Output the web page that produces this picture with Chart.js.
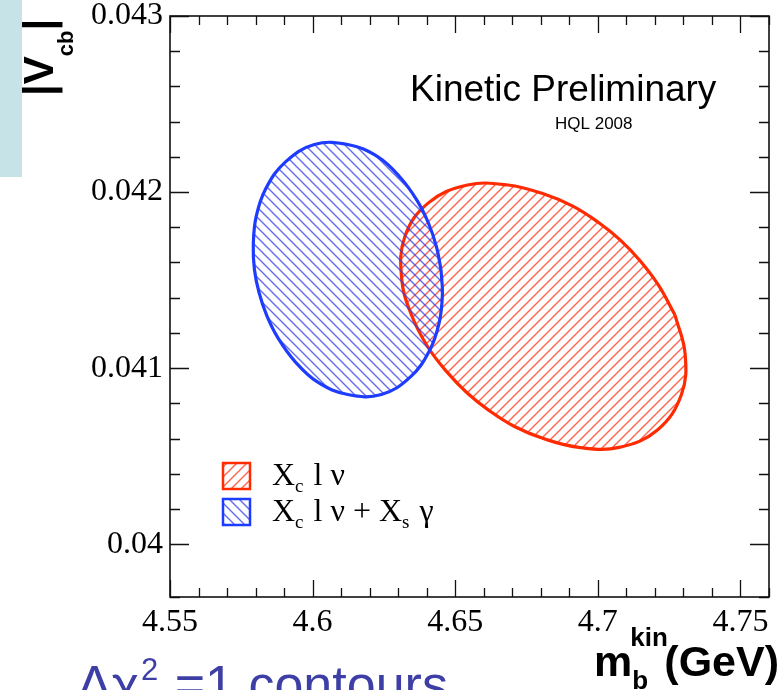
<!DOCTYPE html>
<html>
<head>
<meta charset="utf-8">
<script src="https://cdn.jsdelivr.net/npm/chart.js@4.4.1/dist/chart.umd.min.js"></script>
<style>
  html, body { margin: 0; padding: 0; background: #fff; }
  #wrap { width: 783px; height: 690px; position: relative; }
</style>
</head>
<body>
<div id="wrap"><canvas id="contourChart"></canvas></div>
<script>
// Delta chi2 = 1 contour outlines (m_b kin in GeV, |Vcb|)
const redMass = [4.7271, 4.7306, 4.7293, 4.7210, 4.7075, 4.6933, 4.6809, 4.6706, 4.6618, 4.6541, 4.6470, 4.6404,
                 4.6347, 4.6312, 4.6324, 4.6407, 4.6543, 4.6685, 4.6809, 4.6912, 4.7000, 4.7077, 4.7148, 4.7213];
const redVcb  = [0.04130, 0.04108, 0.04085, 0.04065, 0.04055, 0.04055, 0.04060, 0.04067, 0.04076, 0.04086, 0.04098, 0.04112,
                 0.04130, 0.04151, 0.04175, 0.04194, 0.04204, 0.04204, 0.04199, 0.04192, 0.04183, 0.04173, 0.04161, 0.04147];
const blueMass = [4.6450, 4.6455, 4.6444, 4.6410, 4.6343, 4.6241, 4.6123, 4.6018, 4.5937, 4.5879, 4.5839, 4.5812,
                  4.5796, 4.5792, 4.5802, 4.5836, 4.5904, 4.6006, 4.6123, 4.6229, 4.6309, 4.6367, 4.6407, 4.6434];
const blueVcb  = [0.04156, 0.04142, 0.04126, 0.04110, 0.04095, 0.04085, 0.04085, 0.04092, 0.04104, 0.04117, 0.04130, 0.04143,
                  0.04156, 0.04170, 0.04186, 0.04202, 0.04217, 0.04227, 0.04227, 0.04220, 0.04208, 0.04195, 0.04182, 0.04169];

const xMajorTicks = [4.55, 4.6, 4.65, 4.7, 4.75];
const xTickLabels = ['4.55', '4.6', '4.65', '4.7', '4.75'];
const yMajorTicks = [0.04, 0.041, 0.042, 0.043];
const yTickLabels = ['0.04', '0.041', '0.042', '0.043'];

const RED = '#ff2a00';
const BLUE = '#1e3cff';

function hatch(color, dir) {
    const c = document.createElement('canvas');
    c.width = 10; c.height = 10;
    const g = c.getContext('2d');
    g.strokeStyle = color;
    g.lineWidth = 1.4;
    g.beginPath();
    if (dir > 0) {
        g.moveTo(-2, 12); g.lineTo(12, -2);
        g.moveTo(-2, 2); g.lineTo(2, -2);
        g.moveTo(8, 12); g.lineTo(12, 8);
    } else {
        g.moveTo(-2, -2); g.lineTo(12, 12);
        g.moveTo(8, -2); g.lineTo(12, 2);
        g.moveTo(-2, 8); g.lineTo(2, 12);
    }
    g.stroke();
    return g.createPattern(c, 'repeat');
}

function closed(xs, ys) {
    const pts = xs.map((x, i) => ({ x: x, y: ys[i] }));
    pts.push({ x: xs[0], y: ys[0] });
    return pts;
}

function findLabel(v, majors, labels) {
    const i = majors.findIndex(m => Math.abs(m - v) < 1e-9);
    return i >= 0 ? labels[i] : '';
}

const canvas = document.getElementById('contourChart');
const redHatch = hatch('rgba(255,60,30,0.8)', 1);
const blueHatch = hatch('rgba(50,60,230,0.75)', -1);

// ROOT style frame, inward ticks, titles and legend
const decor = {
    id: 'decor',
    beforeDraw(chart) {
        const c = chart.ctx;
        c.save();
        c.fillStyle = '#fff';
        c.fillRect(0, 0, chart.width, chart.height);
        c.fillStyle = '#c6e4e8';
        c.fillRect(0, 0, 22, 177);
        c.restore();
    },
    afterDraw(chart) {
        const c = chart.ctx;
        const a = chart.chartArea;
        const { x, y } = chart.scales;
        c.save();
        c.strokeStyle = '#111';
        c.lineWidth = 1.3;
        c.beginPath();
        x.ticks.forEach(t => {
            const px = Math.round(x.getPixelForValue(t.value)) + 0.5;
            const len = findLabel(t.value, xMajorTicks, xTickLabels) ? 17 : 9;
            c.moveTo(px, a.bottom); c.lineTo(px, a.bottom - len);
            c.moveTo(px, a.top); c.lineTo(px, a.top + len);
        });
        y.ticks.forEach(t => {
            const py = Math.round(y.getPixelForValue(t.value)) + 0.5;
            const len = findLabel(t.value, yMajorTicks, yTickLabels) ? 19 : 10;
            c.moveTo(a.left, py); c.lineTo(a.left + len, py);
            c.moveTo(a.right, py); c.lineTo(a.right - len, py);
        });
        c.stroke();
        c.lineWidth = 1.6;
        c.strokeRect(a.left, a.top, a.right - a.left, a.bottom - a.top);

        // plot labels
        c.fillStyle = '#000';
        c.textBaseline = 'alphabetic';
        c.font = '37px "Liberation Sans", Arial, sans-serif';
        c.fillText('Kinetic Preliminary', 410, 101);
        c.font = '17px "Liberation Sans", Arial, sans-serif';
        c.fillText('HQL 2008', 555, 129);

        // legend
        const rows = [
            { pat: redHatch, col: RED, y: 463, parts: [['X', 0], ['c', 1], [' l \u03bd', 0]] },
            { pat: blueHatch, col: BLUE, y: 499, parts: [['X', 0], ['c', 1], [' l \u03bd + X', 0], ['s', 1], [' \u03b3', 0]] }
        ];
        rows.forEach(r => {
            c.fillStyle = r.pat;
            c.fillRect(223, r.y, 27, 26);
            c.strokeStyle = r.col;
            c.lineWidth = 2.5;
            c.strokeRect(223, r.y, 27, 26);
            let tx = 272;
            r.parts.forEach(p => {
                c.fillStyle = '#000';
                c.font = p[1] ? '19px "Liberation Serif", serif' : '32px "Liberation Serif", serif';
                c.fillText(p[0], tx, r.y + 22 + (p[1] ? 7 : 0));
                tx += c.measureText(p[0]).width + (p[1] ? 2 : 0);
            });
        });

        // y title |V_cb|
        c.save();
        c.translate(53, 96);
        c.rotate(-Math.PI / 2);
        c.fillStyle = '#000';
        c.font = 'bold 42px "Liberation Sans", Arial, sans-serif';
        c.fillText('|V', 0, 0);
        let w = c.measureText('|V').width;
        c.font = 'bold 22px "Liberation Sans", Arial, sans-serif';
        c.fillText('cb', w, 20);
        w += c.measureText('cb').width;
        c.font = 'bold 42px "Liberation Sans", Arial, sans-serif';
        c.fillText('|', w, 0);
        c.restore();

        // x title m_b^kin (GeV)
        c.fillStyle = '#000';
        c.font = 'bold 43px "Liberation Sans", Arial, sans-serif';
        c.fillText('m', 594, 676);
        const mw = c.measureText('m').width;
        c.font = 'bold 26px "Liberation Sans", Arial, sans-serif';
        c.fillText('kin', 594 + mw - 2, 646);
        c.fillText('b', 594 + mw, 689);
        c.font = 'bold 43px "Liberation Sans", Arial, sans-serif';
        c.textAlign = 'right';
        c.fillText('(GeV)', 779, 676);
        c.textAlign = 'left';

        // slide caption
        c.fillStyle = '#3d3fa6';
        c.font = '52px "Liberation Sans", Arial, sans-serif';
        c.fillText('\u0394\u03c7', 77, 702);
        let cw = 77 + c.measureText('\u0394\u03c7').width;
        c.font = '31px "Liberation Sans", Arial, sans-serif';
        c.fillText('2', cw + 2, 680);
        cw += c.measureText('2').width + 4;
        c.font = '52px "Liberation Sans", Arial, sans-serif';
        c.fillText(' =1 contours', cw, 702);
        c.restore();
    }
};

new Chart(canvas, {
    type: 'scatter',
    data: {
        datasets: [{
            label: 'Xc l nu + Xs gamma',
            data: closed(blueMass, blueVcb),
            showLine: true,
            borderColor: BLUE,
            borderWidth: 3.2,
            backgroundColor: blueHatch,
            fill: 'shape',
            tension: 0.4,
            pointRadius: 0,
            order: 0
        }, {
            label: 'Xc l nu',
            data: closed(redMass, redVcb),
            showLine: true,
            borderColor: RED,
            borderWidth: 3.2,
            backgroundColor: redHatch,
            fill: 'shape',
            tension: 0.4,
            pointRadius: 0,
            order: 1
        }]
    },
    options: {
        responsive: true,
        maintainAspectRatio: false,
        animation: false,
        layout: { padding: { left: 0, top: 16, right: 14, bottom: 0 } },
        plugins: {
            legend: { display: false },
            tooltip: { enabled: false }
        },
        scales: {
            x: {
                type: 'linear',
                min: 4.55,
                max: 4.76,
                grid: { display: false, drawTicks: false },
                border: { display: false },
                afterFit: s => { s.height = 93; s.paddingLeft = 0; s.paddingRight = 0; },
                ticks: {
                    stepSize: 0.01,
                    autoSkip: false,
                    maxRotation: 0,
                    padding: 6,
                    color: '#000',
                    font: { family: '"Liberation Serif", serif', size: 32 },
                    callback: v => findLabel(v, xMajorTicks, xTickLabels)
                }
            },
            y: {
                type: 'linear',
                min: 0.0397,
                max: 0.043,
                grid: { display: false, drawTicks: false },
                border: { display: false },
                afterFit: s => { s.width = 170; s.paddingTop = 0; s.paddingBottom = 0; },
                ticks: {
                    stepSize: 0.0002,
                    autoSkip: false,
                    padding: 7,
                    color: '#000',
                    font: { family: '"Liberation Serif", serif', size: 32 },
                    callback: v => findLabel(v, yMajorTicks, yTickLabels)
                }
            }
        }
    },
    plugins: [decor]
});
</script>
</body>
</html>
